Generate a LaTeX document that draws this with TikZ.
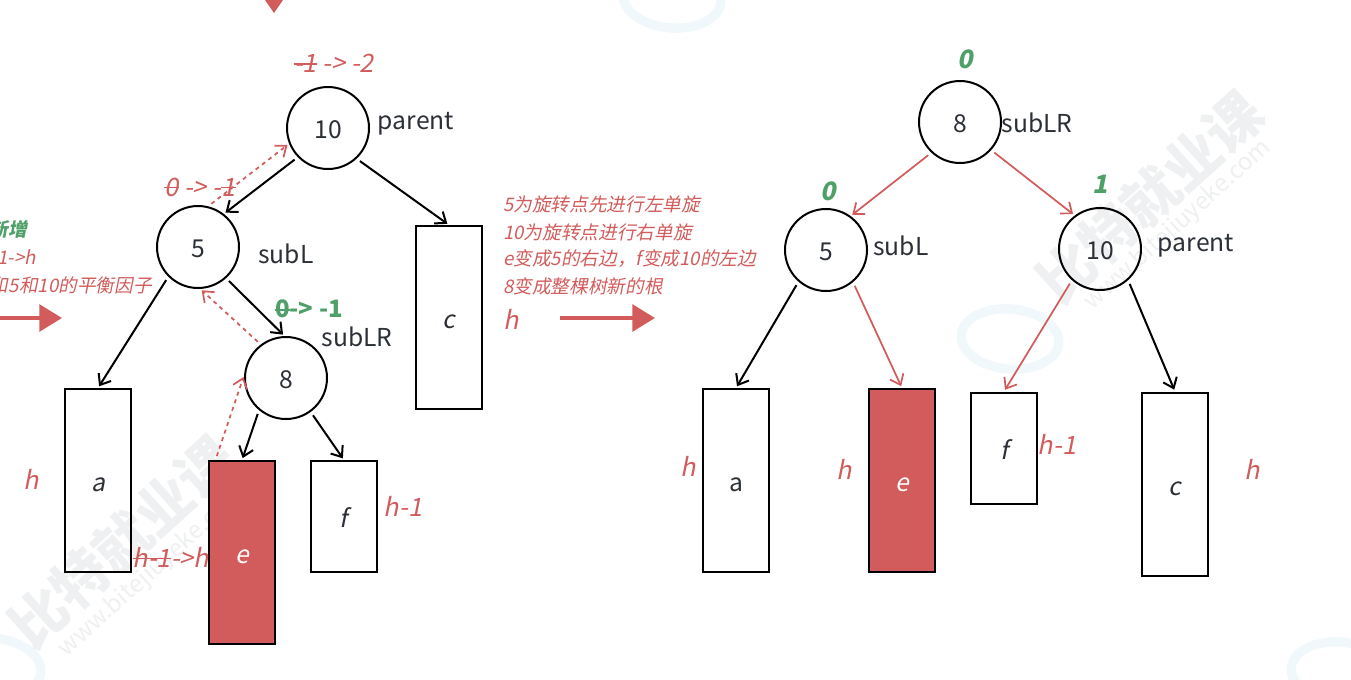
\documentclass[tikz,border=0pt]{standalone}
\usepackage{fontspec}
\usetikzlibrary{arrows.meta}
\setmainfont{Noto Sans CJK SC}
\newfontfamily\slantfont[FakeSlant=0.2]{Noto Sans CJK SC}
\newcommand\strk[1]{\setbox0\hbox{#1}\rlap{\rule[.3em]{\wd0}{.07em}}\box0 }
\definecolor{ink}{HTML}{2B2F36}
\definecolor{rose}{HTML}{D25C5C}
\definecolor{leaf}{HTML}{4E9F68}
\definecolor{mark}{HTML}{EFF0F1}
\definecolor{puddle}{HTML}{F0F8FB}
\tikzset{
  treenode/.style={circle,draw=black,line width=1.5pt,minimum size=61.5pt,inner sep=0pt,text height=15pt,text depth=0pt,text=ink,font=\fontsize{18.5}{20}\selectfont},
  subtree/.style={rectangle,draw=black,line width=1.5pt,minimum width=49.5pt,inner sep=0pt,text height=16.8pt,text depth=0pt,text=ink,font=\slantfont\fontsize{18.5}{20}\selectfont},
  tall/.style={subtree,minimum height=137.25pt},
  short/.style={subtree,minimum height=83.25pt},
  hotbox/.style={tall,fill=rose,text=white},
  tag/.style={text=ink,inner sep=0pt,font=\fontsize{18.5}{20}\selectfont},
  note/.style={text=rose,inner sep=0pt,font=\slantfont\fontsize{19}{20}\selectfont},
  small/.style={text=rose,inner sep=0pt,font=\slantfont\fontsize{14}{16}\selectfont},
  gain/.style={text=leaf,inner sep=0pt,font=\slantfont\bfseries\fontsize{19}{20}\selectfont},
  edge/.style={draw=black,line width=1.5pt,shorten <=3pt,shorten >=1.5pt,-{Straight Barb[length=7pt,width=11pt]}},
  redge/.style={draw=rose,line width=1.3pt,shorten <=3pt,shorten >=1.5pt,-{Straight Barb[length=7pt,width=11pt]}},
  trace/.style={redge,dash pattern=on 3pt off 3pt},
  bigarrow/.style={draw=rose,line width=3pt,-{Triangle[length=17pt,width=20pt]}},
  wmark/.style={text=mark,inner sep=0pt,rotate=42},
  puddlering/.style={draw=puddle,line width=7pt},
}
\begin{document}
\begin{tikzpicture}[x=.75pt,y=-.75pt]
  \useasboundingbox (0,0) rectangle (1351,679);
  \clip (0,0) rectangle (1351,679);

  % watermark
  \foreach \xx/\yy in {672/-2,1010/339,-8/668,1340/672}
    \draw[puddlering,shift={(\xx,\yy)},rotate=-5] (0,0) ellipse (49 and 30);
  \node[wmark,font=\bfseries\fontsize{42}{44}\selectfont] (wm1) at (122,542) {比特就业课};
  \node[wmark,font=\fontsize{18}{20}\selectfont] (wm2) at (152,572) {www.bitejiuyeke.com};
  \node[wmark,font=\bfseries\fontsize{42}{44}\selectfont] (wm3) at (1150,197) {比特就业课};
  \node[wmark,font=\fontsize{18}{20}\selectfont] (wm4) at (1178,225) {www.bitejiuyeke.com};

  % before the rotation
  \node[treenode] (p) at (328,128) {10};
  \node[treenode] (l) at (198,247) {5};
  \node[treenode] (lr) at (286,378) {8};
  \node[tall] (a) at (98,480.5) {a};
  \node[hotbox] (e) at (242,552.5) {e};
  \node[short] (f) at (344,516.5) {f};
  \node[tall] (c) at (449,317.5) {c};

  \draw[edge] (p.224) -- (l.52);
  \draw[edge] (p.-47) -- (c.north);
  \draw[edge] (l.-135) -- (a.north);
  \draw[edge] (l.-48) -- (lr.92);
  \draw[edge] (lr.-130) -- (e.north);
  \draw[edge] (lr.-54) -- (f.north);
  \draw[trace] (l.76) -- (p.202);
  \draw[trace] (lr.127) -- (l.-87);
  \draw[trace] (e.106) -- (lr.176);

  \node[tag] (tagp) at (416,123.5) {parent};
  \node[tag] (tagl) at (286,254) {subL};
  \node[tag] (taglr) at (357,337) {subLR};
  \node[note] (bfp) at (334,63) {\strk{-1} -> -2};
  \node[note] (bfl) at (200,187) {\strk{0} -> -\strk{1}};
  \node[gain,font=\bfseries\fontsize{18}{20}\selectfont] (bflr) at (309,309) {\strk{0}-> -1};
  \node[note] (hc) at (511,319) {h};
  \node[note] (ha) at (31,479) {h};
  \node[note] (hf) at (403,506) {h-1};
  \node[note] (he) at (171,557) {\strk{h-1}->h};

  \node[gain,font=\slantfont\bfseries\fontsize{14}{16}\selectfont,anchor=east] (added) at (27,229) {新增};
  \node[small,anchor=east] (grow) at (36,257) {h-1->h};
  \node[small,anchor=east] (update) at (152,285) {和5和10的平衡因子};
  \node[small,anchor=west] (step1) at (503,204) {5为旋转点先进行左单旋};
  \node[small,anchor=west] (step2) at (503,232) {10为旋转点进行右单旋};
  \node[small,anchor=west] (step3) at (503,259) {e变成5的右边，f变成10的左边};
  \node[small,anchor=west] (step4) at (503,286) {8变成整棵树新的根};

  \coordinate (in1) at (-4,318);
  \coordinate (in2) at (62,318);
  \coordinate (mid1) at (560,318);
  \coordinate (mid2) at (655,318);
  \draw[bigarrow] (in1) -- (in2);
  \draw[bigarrow] (mid1) -- (mid2);
  \fill[rose] (265,0) -- (283,0) -- (274,13) -- cycle;

  % after the rotation
  \node[treenode] (r8) at (960,122) {8};
  \node[treenode] (r5) at (826,250) {5};
  \node[treenode] (r10) at (1100,249) {10};
  \node[tall,font=\fontsize{18.5}{20}\selectfont] (ra) at (736,480.5) {a};
  \node[hotbox] (re) at (902,480.5) {e};
  \node[short] (rf) at (1004,448) {f};
  \node[tall] (rc) at (1175,484) {c};

  \draw[redge] (r8.-133) -- (r5.54);
  \draw[redge] (r8.-42) -- (r10.127);
  \draw[edge] (r5.-131) -- (ra.north);
  \draw[redge] (r5.-50) -- (re.north);
  \draw[redge] (r10.-132) -- (rf.north);
  \draw[edge] (r10.-48) -- (rc.north);

  \node[tag] (tagr8) at (1037,123) {subLR};
  \node[tag] (tagr5) at (901,246) {subL};
  \node[tag] (tagr10) at (1196,245.5) {parent};
  \node[gain] (bf8) at (965,59) {0};
  \node[gain] (bf5) at (828,191) {0};
  \node[gain] (bf10) at (1100,184) {1};
  \node[note] (hra) at (688,466) {h};
  \node[note] (hre) at (844,469) {h};
  \node[note] (hrf) at (1057,444) {h-1};
  \node[note] (hrc) at (1252,469) {h};
\end{tikzpicture}
\end{document}
